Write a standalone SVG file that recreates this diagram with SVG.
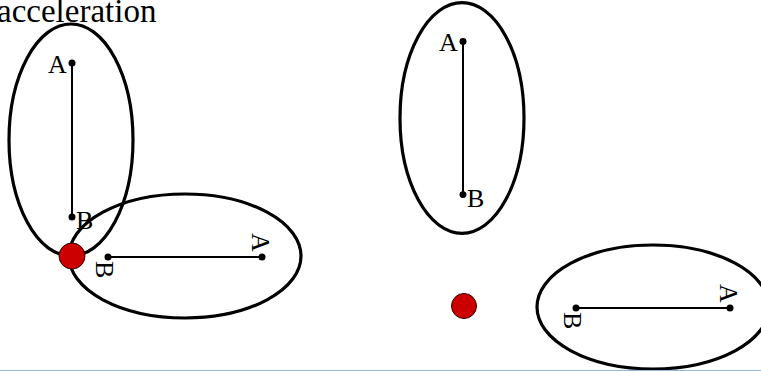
<svg xmlns="http://www.w3.org/2000/svg" width="761" height="371" viewBox="0 0 761 371">
<style>
.ell{fill:none;stroke:#000;stroke-width:3.2}
.bar{stroke:#000;stroke-width:2}
.dot{fill:#000}
.lbl{font-family:"Liberation Serif","Times New Roman",serif;font-size:26px;fill:#000}
.title{font-family:"Liberation Serif","Times New Roman",serif;font-size:33px;fill:#000}
.pivot{fill:#cc0000;stroke:#330000;stroke-width:1}
</style>
<defs>
<g id="body">
<ellipse class="ell" cx="0" cy="0" rx="62" ry="116"/>
<line class="bar" x1="1" y1="-77" x2="1" y2="77"/>
<circle class="dot" cx="1" cy="-77" r="3.5"/>
<circle class="dot" cx="1" cy="77" r="3.5"/>
<text class="lbl" x="-23" y="-67">A</text>
<text class="lbl" x="5" y="89">B</text>
</g>
</defs>
<text id="title" class="title" x="-3" y="22">acceleration</text>
<g id="left-vertical" transform="translate(71,140)"><use href="#body"/></g>
<g id="left-horizontal" transform="translate(185,256) rotate(90)"><use href="#body"/></g>
<g id="right-vertical" transform="translate(462,118) scale(1,0.995)"><use href="#body"/></g>
<g id="right-horizontal" transform="translate(653,307) rotate(90)"><use href="#body"/></g>
<g id="pivots">
<circle class="pivot" cx="72" cy="256" r="13"/>
<circle class="pivot" cx="464" cy="306" r="12.5"/>
</g>
<line x1="0" y1="370.5" x2="761" y2="370.5" stroke="#8fb9e3" stroke-width="1"/>
</svg>
